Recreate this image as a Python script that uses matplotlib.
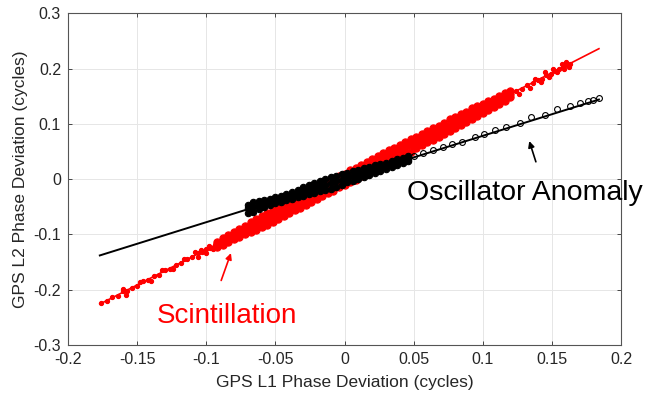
import matplotlib

matplotlib.use("Agg")
import matplotlib.pyplot as plt

plt.rcParams["font.family"] = ["Liberation Sans", "DejaVu Sans"]

# fitted lines (endpoints)
red_fit_x = [-0.177, 0.184]
red_fit_y = [-0.226, 0.236]
black_fit_x = [-0.177, 0.184]
black_fit_y = [-0.138, 0.144]

# scintillation: lower tail
red_tail_lo_x = [-0.176, -0.172, -0.168, -0.164, -0.160, -0.157, -0.154, -0.150,
                 -0.146, -0.142, -0.138, -0.134, -0.130, -0.126, -0.122, -0.118,
                 -0.114, -0.110, -0.106, -0.103, -0.100, -0.097, -0.094,
                 -0.160, -0.158, -0.148, -0.140, -0.132, -0.124, -0.116, -0.108,
                 -0.106, -0.104, -0.100, -0.098, -0.095]
red_tail_lo_y = [-0.224, -0.221, -0.214, -0.211, -0.203, -0.202, -0.196, -0.193,
                 -0.185, -0.183, -0.175, -0.173, -0.165, -0.162, -0.155, -0.152,
                 -0.145, -0.141, -0.134, -0.132, -0.127, -0.125, -0.119,
                 -0.198, -0.209, -0.186, -0.184, -0.164, -0.163, -0.144, -0.131,
                 -0.141, -0.129, -0.133, -0.121, -0.126]

# scintillation: thick middle band (upper edge, middle, lower edge)
red_core_x = [-0.092, -0.088, -0.084, -0.080, -0.076, -0.072, -0.068, -0.064,
              -0.060, -0.056, -0.052, -0.048, -0.044, -0.040, -0.036, -0.032,
              -0.028, -0.024, -0.020, -0.016, -0.012, -0.008, -0.004, 0.000,
              0.004, 0.008, 0.012, 0.016, 0.020, 0.024, 0.028, 0.032,
              0.036, 0.040, 0.044, 0.048, 0.052, 0.056, 0.060, 0.064,
              0.068, 0.072, 0.076, 0.080, 0.084, 0.088, 0.092, 0.096,
              0.100, 0.104, 0.108, 0.112, 0.116, 0.120]
red_core_up = [-0.113, -0.107, -0.101, -0.095, -0.090, -0.084, -0.078, -0.072,
               -0.067, -0.062, -0.056, -0.051, -0.046, -0.041, -0.036, -0.031,
               -0.025, -0.020, -0.015, -0.010, -0.005, 0.000, 0.005, 0.010,
               0.016, 0.021, 0.026, 0.031, 0.036, 0.041, 0.047, 0.052,
               0.057, 0.062, 0.067, 0.072, 0.077, 0.082, 0.087, 0.092,
               0.097, 0.102, 0.108, 0.113, 0.118, 0.122, 0.128, 0.133,
               0.136, 0.141, 0.145, 0.150, 0.155, 0.160]
red_core_mid = [-0.117, -0.113, -0.107, -0.103, -0.097, -0.093, -0.086, -0.083,
                -0.076, -0.072, -0.066, -0.062, -0.056, -0.052, -0.046, -0.041,
                -0.035, -0.031, -0.025, -0.021, -0.015, -0.011, -0.005, 0.000,
                0.006, 0.010, 0.016, 0.020, 0.026, 0.031, 0.036, 0.042,
                0.046, 0.052, 0.057, 0.061, 0.067, 0.071, 0.077, 0.082,
                0.087, 0.093, 0.097, 0.103, 0.107, 0.113, 0.118, 0.122,
                0.128, 0.134, 0.138, 0.144, 0.148, 0.154]
red_core_lo = [-0.123, -0.119, -0.114, -0.109, -0.104, -0.100, -0.096, -0.092,
               -0.087, -0.083, -0.077, -0.072, -0.066, -0.062, -0.056, -0.052,
               -0.046, -0.042, -0.036, -0.031, -0.025, -0.021, -0.015, -0.011,
               -0.005, -0.001, 0.005, 0.010, 0.016, 0.020, 0.026, 0.030,
               0.036, 0.040, 0.046, 0.050, 0.057, 0.061, 0.067, 0.071,
               0.077, 0.082, 0.087, 0.092, 0.098, 0.104, 0.109, 0.114,
               0.120, 0.125, 0.131, 0.136, 0.142, 0.148]

# scintillation: upper tail
red_tail_hi_x = [0.124, 0.128, 0.132, 0.136, 0.140, 0.143, 0.146, 0.149,
                 0.152, 0.155, 0.158, 0.161, 0.163,
                 0.126, 0.134, 0.138, 0.142, 0.145, 0.148, 0.151, 0.154,
                 0.157, 0.159, 0.160, 0.162]
red_tail_hi_y = [0.160, 0.163, 0.170, 0.174, 0.180, 0.182, 0.188, 0.190,
                 0.195, 0.199, 0.202, 0.206, 0.209,
                 0.154, 0.165, 0.181, 0.176, 0.193, 0.184, 0.200, 0.193,
                 0.208, 0.199, 0.212, 0.203]

# oscillator anomaly: dense cloud near the origin
black_core_x = [-0.070, -0.066, -0.062, -0.058, -0.054, -0.050, -0.046, -0.042,
                -0.038, -0.034, -0.030, -0.026, -0.022, -0.018, -0.014, -0.010,
                -0.006, -0.002, 0.002, 0.006, 0.010, 0.014, 0.018, 0.022,
                0.026, 0.030, 0.034, 0.038, 0.042, 0.046]
black_core_up = [-0.047, -0.042, -0.039, -0.037, -0.035, -0.032, -0.030, -0.026,
                 -0.023, -0.019, -0.015, -0.011, -0.007, -0.004, 0.000, 0.003,
                 0.005, 0.009, 0.012, 0.015, 0.017, 0.020, 0.022, 0.025,
                 0.027, 0.030, 0.033, 0.036, 0.039, 0.041]
black_core_mid = [-0.053, -0.050, -0.047, -0.044, -0.041, -0.038, -0.035, -0.032,
                  -0.029, -0.025, -0.022, -0.019, -0.016, -0.013, -0.010, -0.007,
                  -0.004, -0.001, 0.002, 0.005, 0.008, 0.011, 0.015, 0.018,
                  0.021, 0.024, 0.027, 0.030, 0.033, 0.036]
black_core_lo = [-0.061, -0.059, -0.054, -0.050, -0.047, -0.044, -0.041, -0.038,
                 -0.036, -0.033, -0.030, -0.027, -0.025, -0.022, -0.020, -0.017,
                 -0.014, -0.010, -0.006, -0.003, 0.001, 0.004, 0.008, 0.011,
                 0.015, 0.018, 0.022, 0.026, 0.029, 0.033]

# oscillator anomaly: sparse points further out
black_sparse_x = [0.050, 0.057, 0.064, 0.071, 0.078, 0.085, 0.094, 0.101, 0.109,
                  0.117, 0.127, 0.135, 0.145, 0.154, 0.163, 0.170, 0.176, 0.180,
                  0.184]
black_sparse_y = [0.041, 0.047, 0.052, 0.058, 0.063, 0.068, 0.076, 0.081, 0.089,
                  0.095, 0.102, 0.112, 0.116, 0.126, 0.132, 0.137, 0.142, 0.144,
                  0.146]

x_ticks = [-0.2, -0.15, -0.1, -0.05, 0, 0.05, 0.1, 0.15, 0.2]
y_ticks = [-0.3, -0.2, -0.1, 0, 0.1, 0.2, 0.3]

fig = plt.figure(figsize=(6.51, 3.95), dpi=100)
ax = fig.add_axes([0.1045, 0.1266, 0.8495, 0.8397])

red_tail_style = dict(linestyle="none", marker="o", markersize=3.0, markerfacecolor="red",
                      markeredgecolor="red", markeredgewidth=0.8)
red_core_style = dict(linestyle="none", marker="o", markersize=5.2, markerfacecolor="red",
                      markeredgecolor="red", markeredgewidth=0.8)
ax.plot(red_tail_lo_x, red_tail_lo_y, **red_tail_style)
for ys in (red_core_up, red_core_mid, red_core_lo):
    ax.plot(red_core_x, ys, **red_core_style)
ax.plot(red_tail_hi_x, red_tail_hi_y, **red_tail_style)
ax.plot(red_fit_x, red_fit_y, color="red", linewidth=1.2)

black_core_style = dict(linestyle="none", marker="o", markersize=4.6, markerfacecolor="black",
                        markeredgecolor="black", markeredgewidth=0.8)
for ys in (black_core_up, black_core_mid, black_core_lo):
    ax.plot(black_core_x, ys, **black_core_style)
ax.plot(black_sparse_x, black_sparse_y, linestyle="none", marker="o", markersize=4.2,
        markerfacecolor="none", markeredgecolor="black", markeredgewidth=0.8)
ax.plot(black_fit_x, black_fit_y, color="black", linewidth=1.4)

ax.set_xlim(-0.2, 0.2)
ax.set_ylim(-0.3, 0.3)
ax.set_xticks(x_ticks)
ax.set_yticks(y_ticks)
ax.set_xticklabels([f"{t:g}" for t in x_ticks])
ax.set_yticklabels([f"{t:g}" for t in y_ticks])
ax.grid(True, color="#e6e6e6", linewidth=0.7)
ax.set_axisbelow(True)
ax.tick_params(direction="in", top=True, right=True, length=3, width=0.7,
               colors="#444444", labelcolor="#262626", labelsize=11.5, pad=5)
for spine in ax.spines.values():
    spine.set_color("#555555")
    spine.set_linewidth(0.8)

ax.set_xlabel("GPS L1 Phase Deviation (cycles)", fontsize=12.5, color="#262626", labelpad=6)
ax.set_ylabel("GPS L2 Phase Deviation (cycles)", fontsize=12.5, color="#262626", labelpad=4)

ax.text(-0.1355, -0.261, "Scintillation", color="red", fontsize=20)
ax.text(0.0455, -0.038, "Oscillator Anomaly", color="black", fontsize=20.5)
ax.annotate("", xy=(-0.0815, -0.129), xytext=(-0.0899, -0.188),
            arrowprops=dict(arrowstyle="-|>", color="red", lw=1.2, mutation_scale=9))
ax.annotate("", xy=(0.133, 0.0737), xytext=(0.139, 0.0266),
            arrowprops=dict(arrowstyle="-|>", color="black", lw=1.2, mutation_scale=9))

fig.savefig("out.png", dpi=100)
